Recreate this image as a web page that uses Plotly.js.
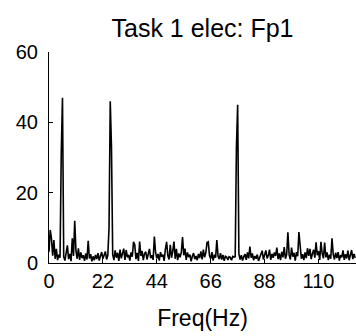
<!DOCTYPE html>
<html>
<head>
<meta charset="utf-8">
<script src="https://cdn.plot.ly/plotly-3.0.1.min.js"></script>
<style>
  html, body { margin: 0; padding: 0; background: #fff; }
  #chart { width: 356px; height: 336px; }
</style>
</head>
<body>
<div id="chart"></div>
<script>
// Power spectrum of channel Fp1, sampled every 0.5 Hz starting at 0 Hz
const freqStart = 0;
const freqStep = 0.5;
const power = [
  3.2, 9.4, 7.0, 2.1, 6.5, 1.2, 4.0, 0.8, 2.4, 1.5,
  31, 47, 1.8, 0.7, 2.9, 5.0, 1.1, 2.6, 0.5, 7.0,
  2.0, 12.0, 3.5, 1.2, 4.2, 0.9, 3.0, 1.4, 2.2, 0.6,
  2.7, 1.0, 6.3, 1.3, 2.5, 0.5, 1.9, 0.8, 2.3, 1.1,
  2.8, 0.7, 2.0, 3.1, 1.2, 2.5, 3.3, 1.0, 2.2, 10.0,
  46, 33, 2.4, 0.8, 3.6, 1.5, 2.9, 0.6, 3.8, 1.3,
  2.5, 4.1, 0.9, 3.7, 1.6, 2.3, 0.7, 3.0, 1.8, 6.0,
  5.2, 1.1, 2.9, 0.6, 6.1, 2.0, 3.4, 0.8, 2.7, 3.2,
  1.0, 2.4, 4.0, 1.4, 2.2, 0.9, 7.5, 3.0, 1.3, 2.6,
  0.7, 3.1, 1.8, 2.4, 0.6, 3.9, 6.0, 2.1, 1.0, 5.2,
  1.5, 3.3, 6.1, 1.2, 4.0, 0.8, 2.7, 1.6, 3.0, 7.4,
  2.2, 4.1, 0.9, 3.0, 1.7, 2.4, 0.5, 1.9, 2.8, 1.1,
  2.0, 0.8, 2.6, 1.4, 3.3, 1.0, 3.8, 1.6, 2.9, 5.8,
  6.0, 2.1, 1.2, 3.1, 0.7, 2.4, 1.5, 6.5, 2.0, 1.1,
  2.8, 1.0, 2.3, 0.6, 1.9, 1.7, 0.9, 1.8, 1.6, 0.8,
  1.9, 1.7, 1.8, 33, 45, 2.6, 1.0, 2.2, 0.7, 1.8,
  2.5, 0.9, 3.0, 1.3, 4.7, 1.5, 2.7, 0.8, 2.0, 1.2,
  2.4, 0.6, 1.7, 2.2, 3.5, 1.0, 2.5, 3.6, 1.3, 2.1,
  3.8, 0.9, 2.6, 1.5, 3.0, 2.0, 4.4, 1.1, 2.7, 0.8,
  3.2, 1.6, 4.5, 1.2, 2.4, 8.7, 2.3, 1.0, 4.4, 1.8,
  2.9, 0.7, 3.1, 1.9, 8.8, 5.6, 1.2, 2.5, 0.8, 3.0,
  1.4, 4.2, 2.0, 4.0, 1.1, 2.6, 3.8, 1.5, 5.9, 2.2,
  3.4, 0.9, 6.0, 2.7, 1.3, 5.8, 1.6, 3.0, 0.8, 2.4,
  1.2, 7.0, 2.5, 1.0, 2.9, 1.4, 3.1, 0.7, 2.2, 1.6,
  3.6, 0.9, 2.5, 1.3, 3.5, 0.8, 2.3, 3.7, 1.1, 2.6,
  1.4
];
const xTicks = [0, 22, 44, 66, 88, 110];
const yTicks = [0, 20, 40, 60];

const font = 'Liberation Sans, Arial, Helvetica, sans-serif';

const trace = {
  type: 'scatter',
  mode: 'lines',
  x0: freqStart,
  dx: freqStep,
  y: power,
  line: { color: '#000', width: 1.6 },
  hoverinfo: 'skip'
};

const layout = {
  width: 356,
  height: 336,
  margin: { l: 49, r: 0, t: 52, b: 73, pad: 0 },
  paper_bgcolor: '#fff',
  plot_bgcolor: '#fff',
  showlegend: false,
  font: { family: font, color: '#000', size: 20 },
  title: {
    text: 'Task 1 elec: Fp1',
    font: { family: font, size: 25, color: '#000' },
    x: 0.5, xref: 'paper', xanchor: 'center',
    y: 1 - 28 / 336, yref: 'container', yanchor: 'middle'
  },
  xaxis: {
    range: [0, 125.3],
    tickmode: 'array',
    tickvals: xTicks,
    ticktext: xTicks.map(String),
    ticks: 'inside', ticklen: 4, tickcolor: '#000', tickwidth: 1,
    showline: true, linecolor: '#000', linewidth: 1,
    showgrid: false, zeroline: false,
    tickfont: { family: font, size: 20, color: '#000' },
    title: { text: 'Freq(Hz)', font: { family: font, size: 23, color: '#000' }, standoff: 18 }
  },
  yaxis: {
    range: [0, 60],
    tickmode: 'array',
    tickvals: yTicks,
    ticktext: yTicks.map(String),
    ticks: 'inside', ticklen: 4, tickcolor: '#000', tickwidth: 1,
    showline: true, linecolor: '#000', linewidth: 1,
    showgrid: false, zeroline: false,
    tickfont: { family: font, size: 20, color: '#000' },
    ticklabelstandoff: 6
  }
};

Plotly.newPlot('chart', [trace], layout, { displayModeBar: false, staticPlot: true });
</script>
</body>
</html>
